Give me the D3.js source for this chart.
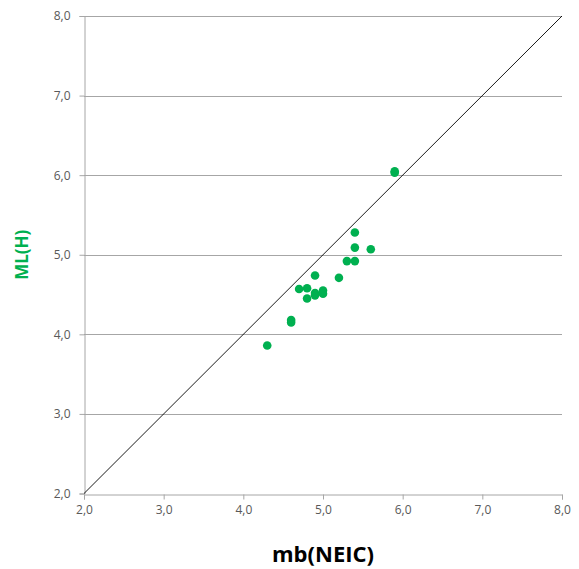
<!DOCTYPE html>
<html><head><meta charset="utf-8">
<script src="https://cdn.jsdelivr.net/npm/d3@7"></script>
<style>body{margin:0;background:#fff}</style>
</head><body>
<script>
const mbValues = [5.9, 5.9, 5.4, 5.4, 5.6, 5.3, 5.4, 4.9, 5.2, 4.7, 4.8, 4.9, 4.9, 5.0, 5.0, 4.8, 4.6, 4.6, 4.3];
const mlValues = [6.03, 6.05, 5.28, 5.09, 5.07, 4.92, 4.92, 4.74, 4.71, 4.57, 4.58, 4.52, 4.49, 4.55, 4.51, 4.45, 4.18, 4.15, 3.86];
const tickValues = [2, 3, 4, 5, 6, 7, 8];
const tickLabels = ["2,0", "3,0", "4,0", "5,0", "6,0", "7,0", "8,0"];
const xTitle = "mb(NEIC)";
const yTitle = "ML(H)";

const W = 579, H = 569;
const m = {left: 84, right: 17, top: 16, bottom: 75.5};
const svg = d3.select("body").append("svg").attr("width", W).attr("height", H);
const x = d3.scaleLinear().domain([2, 8]).range([m.left, W - m.right]);
const y = d3.scaleLinear().domain([2, 8]).range([H - m.bottom, m.top]);
const grey = "#a6a6a6";
const font = "'Open Sans', 'DejaVu Sans', sans-serif";

// gridlines
svg.append("g").selectAll("line").data(tickValues.slice(1)).join("line")
  .attr("x1", x(2)).attr("x2", x(8))
  .attr("y1", d => Math.round(y(d)) + 0.5).attr("y2", d => Math.round(y(d)) + 0.5)
  .attr("stroke", grey).attr("stroke-width", 1);

const fmt = d => tickLabels[tickValues.indexOf(d)];
const xAxis = svg.append("g").attr("transform", `translate(0,${Math.round(y(2)) + 0.5})`)
  .call(d3.axisBottom(x).tickValues(tickValues).tickFormat(fmt).tickSizeOuter(0).tickSize(5).tickPadding(6));
const yAxis = svg.append("g").attr("transform", `translate(${Math.round(x(2)) + 0.5},0)`)
  .call(d3.axisLeft(y).tickValues(tickValues).tickFormat(fmt).tickSizeOuter(0).tickSize(5).tickPadding(9));
[xAxis, yAxis].forEach(a => {
  a.selectAll("path,line").attr("stroke", grey);
  a.selectAll("text").attr("fill", "#595959").style("font-family", font).style("font-size", "12px");
});

// 1:1 line
svg.append("line").attr("x1", x(2)).attr("y1", y(2)).attr("x2", x(8)).attr("y2", y(8))
  .attr("stroke", "#000").attr("stroke-width", 0.9);

// points
svg.append("g").selectAll("circle").data(mbValues.map((v, i) => [v, mlValues[i]])).join("circle")
  .attr("cx", d => x(d[0])).attr("cy", d => y(d[1])).attr("r", 4.3)
  .attr("fill", "#00b050");

svg.append("text").attr("x", (x(2) + x(8)) / 2).attr("y", 562).attr("text-anchor", "middle")
  .style("font-family", font).style("font-weight", "bold").style("font-size", "22px").attr("fill", "#000")
  .text(xTitle);
svg.append("text").attr("transform", `translate(28,${(y(2) + y(8)) / 2}) rotate(-90)`).attr("text-anchor", "middle")
  .style("font-family", font).style("font-weight", "bold").style("font-size", "17px").attr("fill", "#00b050")
  .text(yTitle);
</script>
</body></html>
